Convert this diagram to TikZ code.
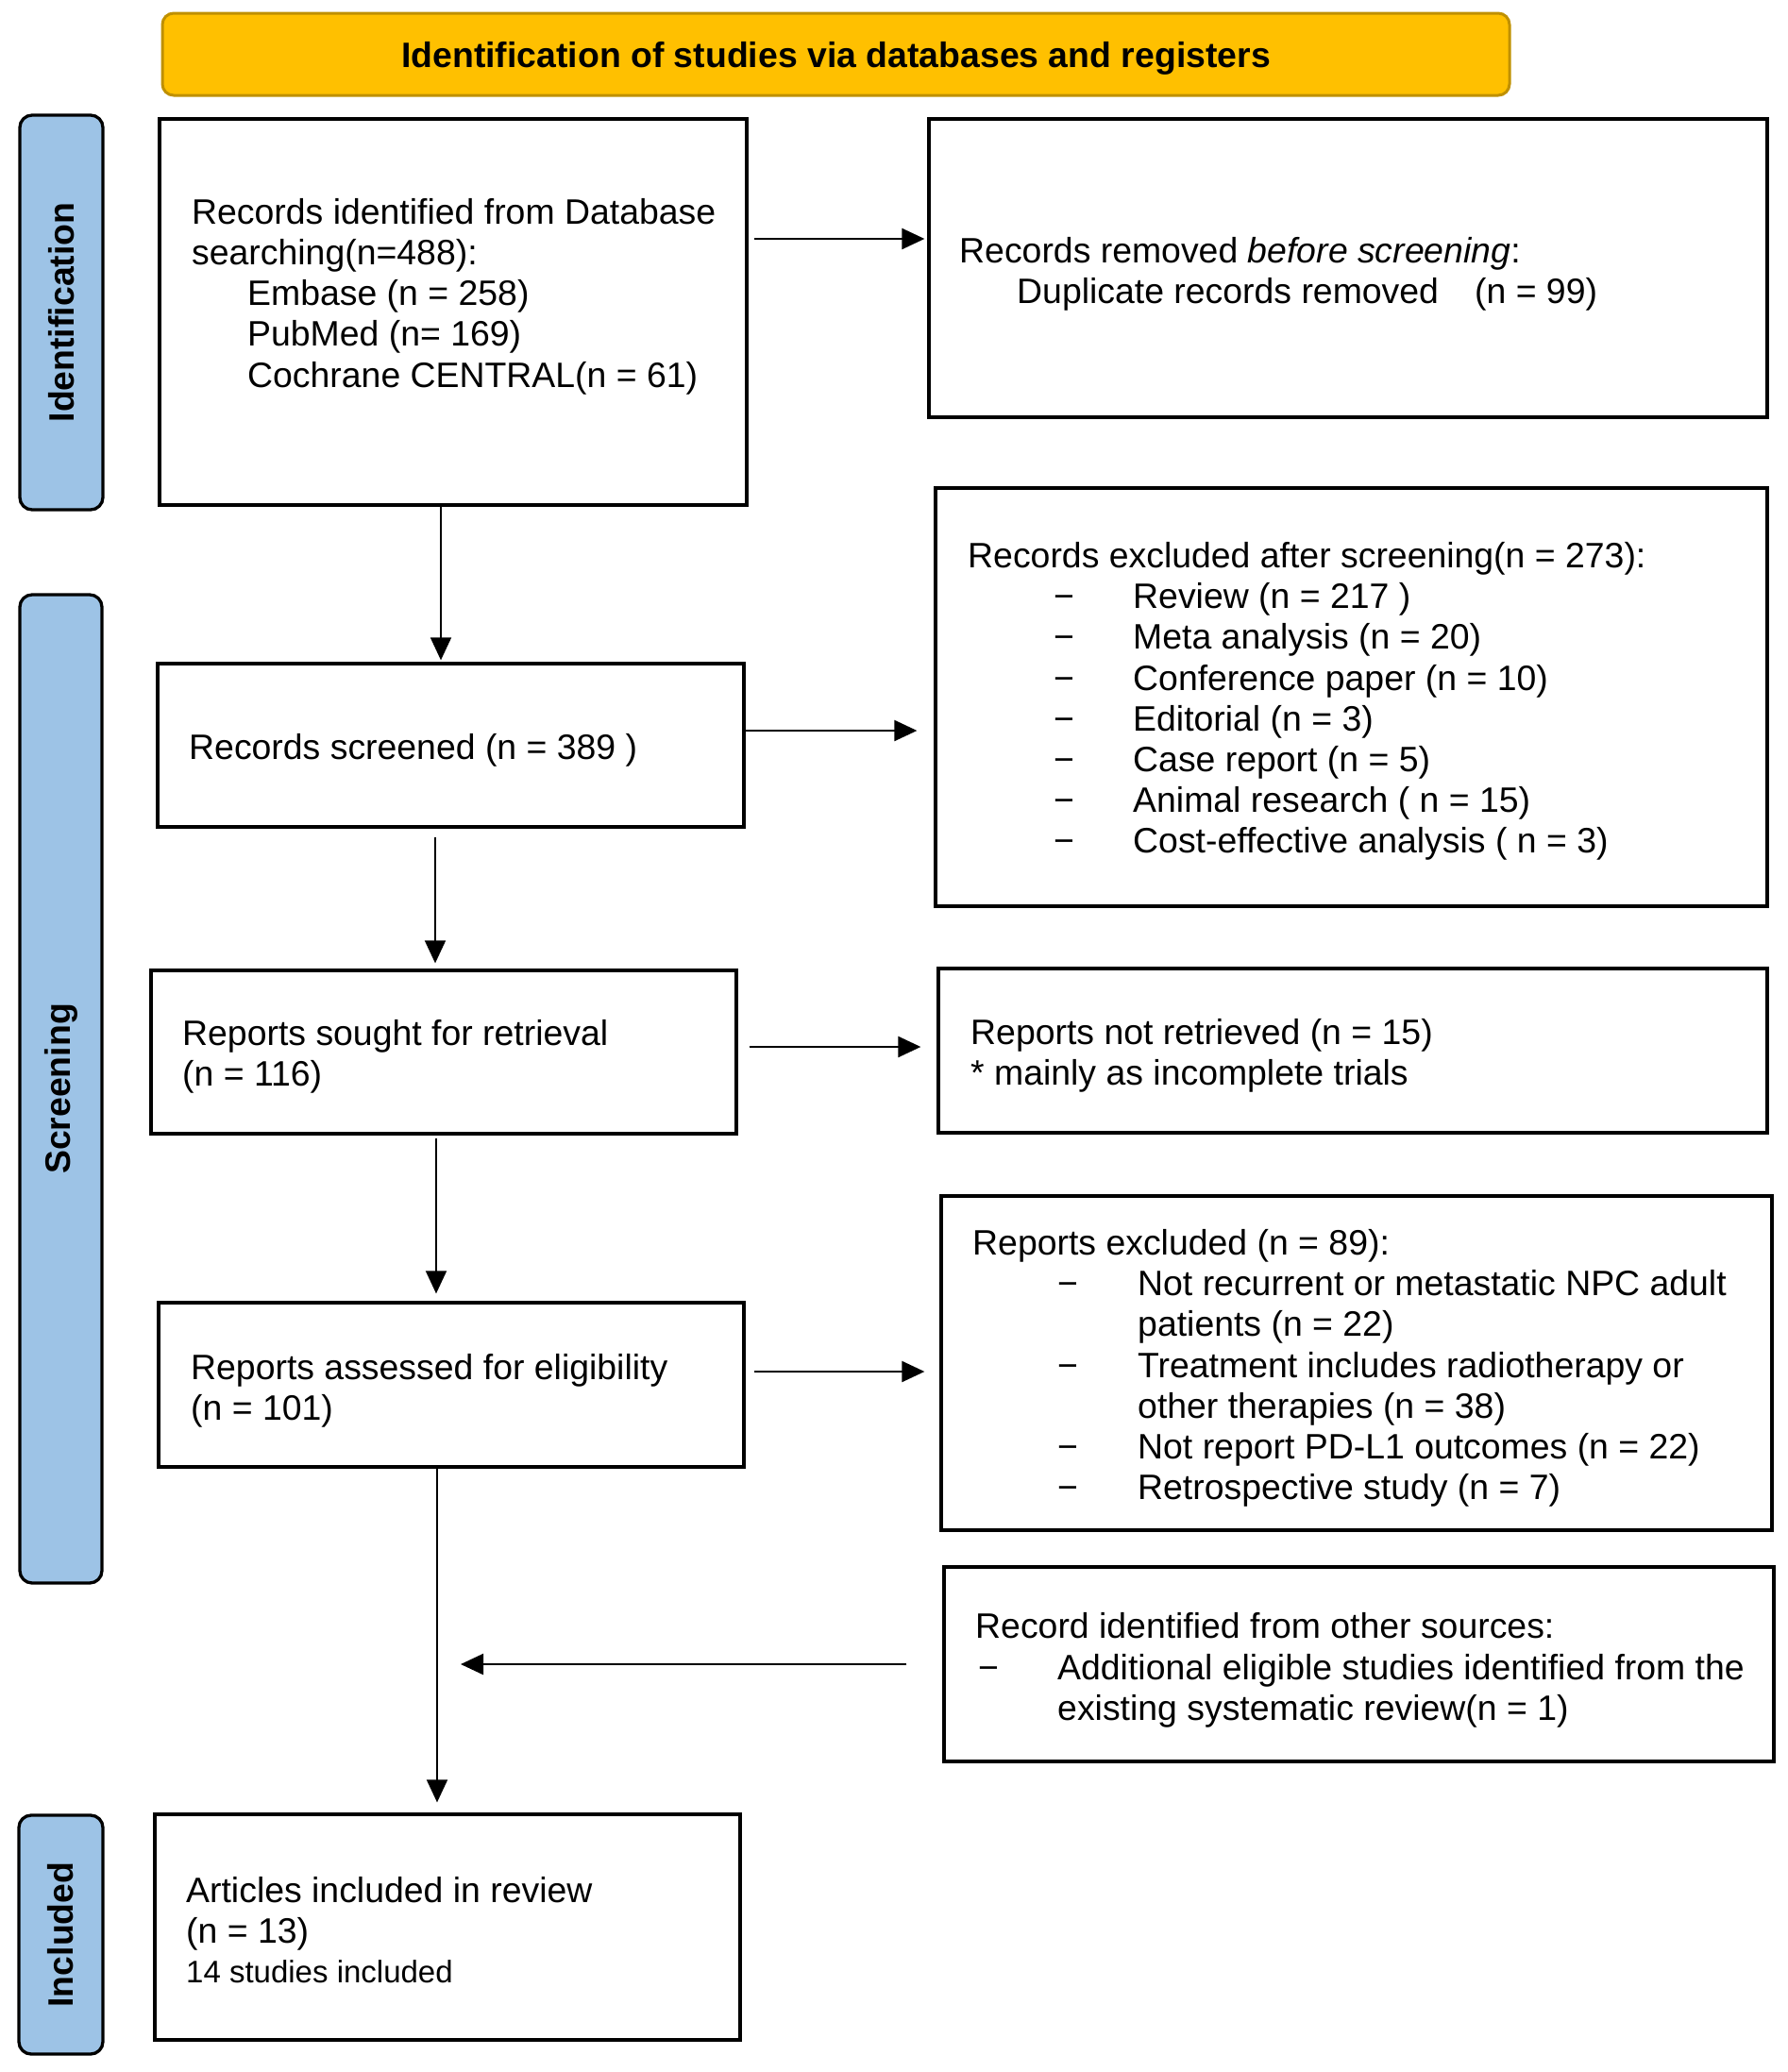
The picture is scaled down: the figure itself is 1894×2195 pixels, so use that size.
\documentclass[tikz,border=0pt]{standalone}
\usepackage{fontspec}
\setmainfont{Liberation Sans}
\usetikzlibrary{arrows.meta}
\definecolor{hdrfill}{HTML}{FFC000}
\definecolor{hdrline}{HTML}{BF9000}
\definecolor{sidefill}{HTML}{9DC3E6}
\newcommand{\bigf}{\fontsize{37.4pt}{43.2pt}\selectfont}
\newcommand{\smallf}{\fontsize{33pt}{38pt}\selectfont}
\newcommand{\itm}[1]{\hspace*{91pt}\makebox[84pt][l]{−}#1}
\newcommand{\itmb}[1]{\hspace*{90pt}\makebox[85pt][l]{−}#1}
\begin{document}
\begin{tikzpicture}[x=1pt,y=-1pt,
  box/.style={draw=black, line width=3.3pt, inner sep=0pt},
  sidebar/.style={draw=black, fill=sidefill, line width=3.3pt, rounded corners=13pt, rotate=90, font=\bigf\bfseries, inner sep=0pt},
  header/.style={draw=hdrline, fill=hdrfill, line width=3pt, rounded corners=12pt, inner sep=0pt},
  txt/.style={anchor=west, align=left, inner sep=0pt, font=\bigf},
  arr/.style={line width=2.2pt, -{Triangle[length=24pt,width=22pt]}},
  varr/.style={arr, line width=1.7pt}]
\useasboundingbox (0,0) rectangle (1894,2195);

% header and side bars
\node[header, minimum width=1427pt, minimum height=87pt] (hdr) at (885.5,57.5) {};
\node[inner sep=0pt, font=\bigf\bfseries] (hdrtxt) at ([yshift=-4.5pt]hdr.center) {Identification of studies via databases and registers};
\node[sidebar, minimum width=418pt, minimum height=88pt] (sid) at (65,331) {Identification};
\node[sidebar, minimum width=1047pt, minimum height=87pt] (ssc) at (64.5,1153.5) {Screening};
\node[sidebar, minimum width=253pt, minimum height=89pt] (sin) at (64.5,2049.5) {Included};

% boxes
\node[box, minimum width=622pt, minimum height=409pt] (b1) at (480,330.5) {};
\node[box, minimum width=888pt, minimum height=316pt] (b2) at (1428,284) {};
\node[box, minimum width=621pt, minimum height=173pt] (b3) at (477.5,789.5) {};
\node[box, minimum width=881pt, minimum height=443pt] (b4) at (1431.5,738.5) {};
\node[box, minimum width=620pt, minimum height=173pt] (b5) at (470,1114.5) {};
\node[box, minimum width=878pt, minimum height=174pt] (b6) at (1433,1113) {};
\node[box, minimum width=620pt, minimum height=174pt] (b7) at (478,1467) {};
\node[box, minimum width=880pt, minimum height=354pt] (b8) at (1437,1444) {};
\node[box, minimum width=879pt, minimum height=206pt] (b9) at (1439.5,1763) {};
\node[box, minimum width=620pt, minimum height=239pt] (b10) at (474,2041.5) {};

% texts
\node[txt] (t1) at (203,314) {Records identified from Database\\
searching(n=488):\\
\hspace*{59pt}Embase (n = 258)\\
\hspace*{59pt}PubMed (n= 169)\\
\hspace*{59pt}Cochrane CENTRAL(n = 61)};
\node[txt] (t2) at (1016,290) {Records removed \textit{before screening}:\\
\hspace*{61pt}\makebox[485pt][l]{Duplicate records removed}(n = 99)};
\node[txt] (t3) at (200,795) {Records screened (n = 389 )};
\node[txt] (t4) at (1025,743) {Records excluded after screening(n = 273):\\
\itm{Review (n = 217 )}\\
\itm{Meta analysis (n = 20)}\\
\itm{Conference paper (n = 10)}\\
\itm{Editorial (n = 3)}\\
\itm{Case report (n = 5)}\\
\itm{Animal research ( n = 15)}\\
\itm{Cost-effective analysis ( n = 3)}};
\node[txt] (t5) at (193,1119) {Reports sought for retrieval\\(n = 116)};
\node[txt] (t6) at (1028,1118) {Reports not retrieved (n = 15)\\* mainly as incomplete trials};
\node[txt] (t7) at (202,1473.5) {Reports assessed for eligibility\\(n = 101)};
\node[txt] (t8) at (1030,1449.5) {Reports excluded (n = 89):\\
\itmb{Not recurrent or metastatic NPC adult}\\
\hspace*{175pt}patients (n = 22)\\
\itmb{Treatment includes radiotherapy or}\\
\hspace*{175pt}other therapies (n = 38)\\
\itmb{Not report PD-L1 outcomes (n = 22)}\\
\itmb{Retrospective study (n = 7)}};
\node[txt] (t9) at (1033,1769.5) {Record identified from other sources:\\
\hspace*{3pt}\makebox[84pt][l]{−}Additional eligible studies identified from the\\
\hspace*{87pt}existing systematic review(n = 1)};
\node[txt] (t10) at (197,2027.5) {Articles included in review\\(n = 13)};
\node[txt, font=\smallf] (t10b) at (197,2089) {14 studies included};

% helper coordinates for connector rows/columns
\coordinate (r1) at (0,253);
\coordinate (r3) at (0,774);
\coordinate (r5) at (0,1109);
\coordinate (r7) at (0,1453);
\coordinate (c2) at (467,0);
\coordinate (c4) at (461,0);
\coordinate (c6) at (462,0);
\coordinate (c8) at (463,0);
\coordinate (m9) at (488,1763);

% connectors
\draw[arr, shorten <=6pt, shorten >=3pt] (b1.east |- r1) -- (b2.west |- r1);
\draw[arr, shorten >=18pt] (b3.east |- r3) -- (b4.west |- r3);
\draw[arr, shorten <=12pt, shorten >=17pt] (b5.east |- r5) -- (b6.west |- r5);
\draw[arr, shorten <=9pt, shorten >=16pt] (b7.east |- r7) -- (b8.west |- r7);
\draw[varr, shorten >=2pt] (b1.south -| c2) -- (b3.north -| c2);
\draw[varr, shorten <=9pt, shorten >=6pt] (b3.south -| c4) -- (b5.north -| c4);
\draw[varr, shorten <=3pt, shorten >=8pt] (b5.south -| c6) -- (b7.north -| c6);
\draw[varr, shorten >=11pt] (b7.south -| c8) -- (b10.north -| c8);
\draw[arr, shorten <=38pt] (b9.west) -- (m9);
\end{tikzpicture}
\end{document}
